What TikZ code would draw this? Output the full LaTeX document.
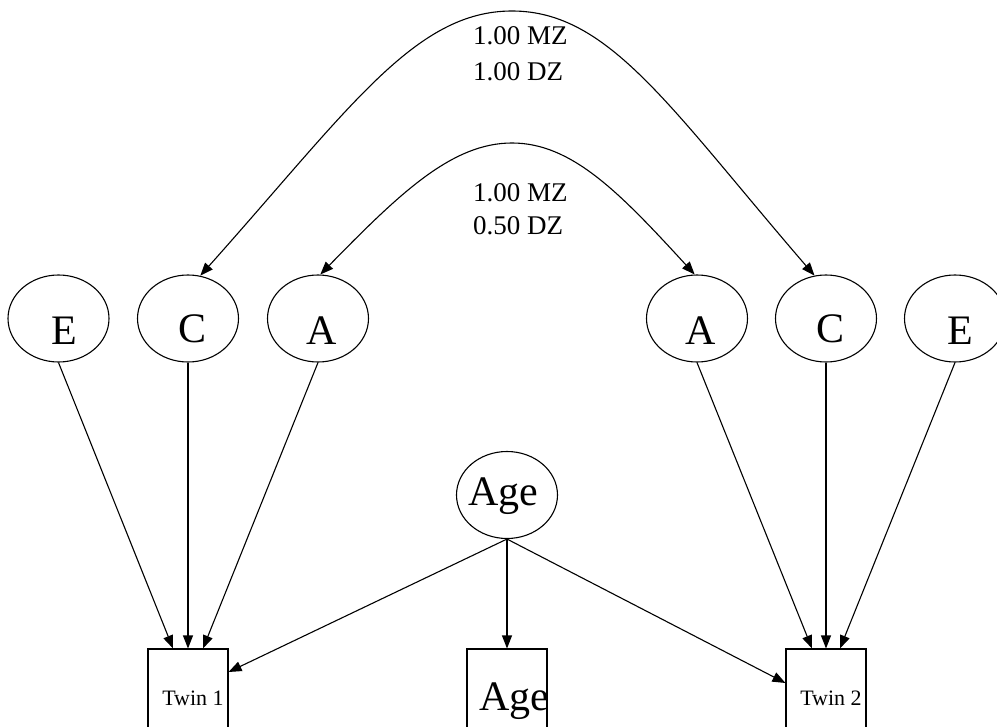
\documentclass[tikz,border=0pt]{standalone}
\usepackage{fontspec}
\setmainfont{Liberation Serif}
\usetikzlibrary{shapes.geometric,arrows.meta}
\begin{document}
\begin{tikzpicture}[x=1pt,y=-1pt,
  lat/.style={draw,ellipse,line width=1.1pt,minimum width=101pt,minimum height=87pt,inner sep=0pt},
  obs/.style={draw,rectangle,line width=1.1pt,minimum width=80pt,minimum height=80pt,inner sep=0pt},
  big/.style={font=\fontsize{42}{44}\selectfont,anchor=base,inner sep=0pt},
  small/.style={font=\fontsize{22}{24}\selectfont,anchor=base,inner sep=0pt},
  lab/.style={font=\fontsize{27}{29}\selectfont,anchor=base west,inner sep=0pt},
  arr/.style={line width=1.1pt,-{Triangle[length=13pt,width=10pt]}},
  darr/.style={line width=1.1pt,{Triangle[length=13pt,width=10pt]}-{Triangle[length=13pt,width=10pt]}}]
\useasboundingbox (0,0) rectangle (997,727);
% latent variables
\node[lat] (e1) at (58.5,318.5) {};
\node[lat] (c1) at (188,318.5) {};
\node[lat] (a1) at (318,318.5) {};
\node[lat] (a2) at (697,318.5) {};
\node[lat] (c2) at (826,318.5) {};
\node[lat] (e2) at (955,318.5) {};
\node[lat] (agel) at (507,495) {};
\node[big] (e1t) at (64,345) {E};
\node[big] (c1t) at (193,343) {C};
\node[big] (a1t) at (322,345) {A};
\node[big] (a2t) at (701,345) {A};
\node[big] (c2t) at (831,343) {C};
\node[big] (e2t) at (960,345) {E};
\node[big] (agelt) at (503,506) {Age};
% observed
\node[obs] (tw1) at (188,689) {};
\node[obs] (ageo) at (507,689) {};
\node[obs] (tw2) at (826,689) {};
\node[small] (tw1t) at (193,705) {Twin 1};
\node[small] (tw2t) at (831,705) {Twin 2};
\node[big] (ageot) at (514,710) {Age};
% paths
\draw[arr] (e1.south) -- ([xshift=-15pt]tw1.north);
\draw[arr] (c1.south) -- (tw1.north);
\draw[arr] (a1.south) -- ([xshift=15pt]tw1.north);
\draw[arr] (a2.south) -- ([xshift=-14pt]tw2.north);
\draw[arr] (c2.south) -- (tw2.north);
\draw[arr] (e2.south) -- ([xshift=14pt]tw2.north);
\draw[arr] (agel.south) -- ([yshift=17pt]tw1.east);
\draw[arr] (agel.south) -- (ageo.north);
\draw[arr] (agel.south) -- ([yshift=6pt]tw2.west);
% correlations
\coordinate (top1) at (512,11);
\coordinate (top2) at (512,143);
\draw[darr] (c1.74) .. controls (350,108) and (415,11) .. (top1)
  .. controls (609,11) and (670,108) .. (c2.105);
\draw[darr] (a1.87) .. controls (400,193) and (452,143) .. (top2)
  .. controls (572,143) and (620,193) .. (a2.93);
\node[lab] (l1) at (473,45) {1.00 MZ};
\node[lab] (l2) at (473,81) {1.00 DZ};
\node[lab] (l3) at (473,202) {1.00 MZ};
\node[lab] (l4) at (473,235) {0.50 DZ};
\end{tikzpicture}
\end{document}
